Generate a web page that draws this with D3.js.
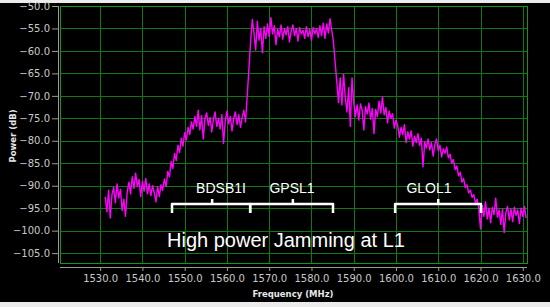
<!DOCTYPE html>
<html>
<head>
<meta charset="utf-8">
<script src="https://cdn.jsdelivr.net/npm/d3@7"></script>
<style>
  body { margin: 0; background: #ececec; }
</style>
</head>
<body>
<div id="chart"></div>
<script>
// spectrum sweep, one reading every 0.4 MHz from 1531.2 MHz
const freqStart = 1531.2, freqStep = 0.4;

const floorLow = [-92.5, -95.8, -91.0, -97.2, -92.0, -90.4, -93.8, -89.6, -92.7, -90.8,
  -95.5, -93.0, -96.8, -91.5, -89.2, -91.8, -88.0, -90.6, -87.2, -90.2,
  -88.6, -92.4, -89.0, -91.2, -88.4, -91.8, -89.6, -92.2, -90.0, -91.5,
  -93.6, -90.2, -92.4, -89.8, -91.0];
const bdsRise = [-88.5, -90.2, -86.8, -88.0, -84.6, -86.2, -82.8, -84.4, -81.0, -82.6,
  -79.4, -81.2, -78.2, -79.8, -77.0, -78.6, -75.8, -77.4];
const bdsBand = [-74.6, -76.8, -73.2, -77.6, -74.4, -79.6, -75.0, -73.8, -76.6, -74.8,
  -78.0, -75.2, -73.6, -76.8, -75.0, -77.4, -74.2, -80.6, -75.6, -73.4,
  -76.2, -74.6, -77.8, -75.0, -73.6, -76.4, -74.2, -77.0, -74.8, -73.2, -75.8];
const gpsRise = [-70.0, -64.0, -58.0, -53.0, -56.0];
const gpsBand = [-59.8, -53.4, -57.6, -55.0, -60.4, -54.6, -57.2, -54.0, -56.8, -52.6,
  -56.2, -54.4, -58.6, -55.2, -56.8, -54.2, -57.4, -55.0, -56.4, -54.6,
  -58.0, -55.6, -54.2, -56.6, -55.0, -57.8, -54.8, -56.2, -55.4, -57.2,
  -54.6, -56.8, -55.2, -57.6, -54.8, -56.2, -55.0, -57.0, -54.4, -56.6,
  -53.8, -57.2, -54.0, -56.0, -52.8, -55.4];
const gpsFall = [-58.0, -62.5, -67.0, -71.5, -66.0, -72.0];
const midBand = [-65.2, -70.4, -73.6, -68.2, -76.8, -66.0, -71.4, -74.6, -72.0, -75.4,
  -71.8, -73.2, -77.6, -72.4, -74.0, -71.6, -75.2, -72.8, -78.4, -73.0,
  -74.6, -71.2, -73.8, -70.2, -74.2, -72.6, -76.0, -73.4, -75.0, -74.0,
  -77.2, -75.4];
const gloBand = [-76.6, -79.2, -77.0, -78.6, -76.4, -80.4, -78.0, -79.6, -77.8, -81.2,
  -79.0, -80.4, -78.4, -81.0, -79.4, -85.8, -80.2, -81.6, -79.6, -82.0,
  -80.4, -83.4, -80.8, -79.6, -82.2, -81.0, -83.6, -81.8, -82.8, -81.4, -83.8];
const gloFall = [-83.0, -85.0, -84.2, -86.4, -85.6, -87.8, -87.0, -89.2, -88.4, -90.4,
  -89.8, -91.6, -91.0, -92.6, -92.0, -93.8, -93.0];
const floorHigh = [-95.2, -99.6, -94.4, -96.8, -93.6, -97.4, -95.0, -98.2, -94.8, -96.4,
  -92.8, -97.0, -95.4, -98.6, -95.2, -100.4, -96.0, -94.6, -97.6, -95.2,
  -98.0, -94.8, -96.6, -95.4, -98.4, -95.0, -96.8, -94.6, -97.2];

const power = [].concat(floorLow, bdsRise, bdsBand, gpsRise, gpsBand, gpsFall,
  midBand, gloBand, gloFall, floorHigh);

const xTicks = [1530, 1540, 1550, 1560, 1570, 1580, 1590, 1600, 1610, 1620, 1630];
const yTicks = [-50, -55, -60, -65, -70, -75, -80, -85, -90, -95, -100, -105];

// bracket annotations
const bandNames = ["BDSB1I", "GPSL1", "GLOL1"];
const bandStart = [1547.0, 1565.5, 1599.8];
const bandEnd = [1565.5, 1585.1, 1620.1];
const bandMid = [1556.5, 1575.6, 1610.0];
const bandLabelAt = [1558.6, 1575.4, 1607.8];
const caption = "High power Jamming at L1";

const width = 550, height = 307;
const plot = { left: 60, right: 527, top: 6, bottom: 263 };

const svg = d3.select("#chart").append("svg")
  .attr("width", width).attr("height", height);

svg.append("rect")
  .attr("x", 0).attr("y", 3).attr("width", width).attr("height", 299)
  .attr("fill", "#000");

const x = d3.scaleLinear().domain([1520.5, 1631.0]).range([plot.left, plot.right]);
const y = d3.scaleLinear().domain([-107.2, -50]).range([plot.bottom, plot.top]);

// grid
const grid = svg.append("g").attr("stroke", "#107a10").attr("stroke-width", 1);
grid.selectAll(".hg").data(yTicks).join("line")
  .attr("x1", plot.left).attr("x2", plot.right)
  .attr("y1", d => Math.round(y(d)) + 0.5).attr("y2", d => Math.round(y(d)) + 0.5);
grid.selectAll(".vg").data(xTicks).join("line")
  .attr("y1", plot.top).attr("y2", plot.bottom)
  .attr("x1", d => Math.round(x(d)) + 0.5).attr("x2", d => Math.round(x(d)) + 0.5);

svg.append("rect")
  .attr("x", plot.left + 0.5).attr("y", plot.top + 0.5)
  .attr("width", plot.right - plot.left).attr("height", plot.bottom - plot.top)
  .attr("fill", "none").attr("stroke", "#169616").attr("stroke-width", 1);

// axes
const fmt = d3.format(".1f");
const yAxis = svg.append("g")
  .attr("transform", `translate(${plot.left - 2},0)`)
  .call(d3.axisLeft(y).tickValues(yTicks).tickSize(6).tickPadding(2)
    .tickFormat(d => fmt(d)));
const xAxis = svg.append("g")
  .attr("transform", `translate(0,${plot.bottom + 4})`)
  .call(d3.axisBottom(x).tickValues(xTicks).tickSize(4).tickPadding(4)
    .tickFormat(d => fmt(d)));

[yAxis, xAxis].forEach(a => {
  a.select(".domain").attr("stroke", "#9a9a9a");
  a.selectAll(".tick line").attr("stroke", "#9a9a9a");
  a.selectAll(".tick text")
    .attr("fill", "#c8c8c8")
    .style("font-family", "DejaVu Sans")
    .style("font-size", "10px");
});
xAxis.select(".domain").attr("d", `M${plot.left},0.5H${plot.right}`);
yAxis.select(".domain").attr("d", `M0.5,${plot.top}V${plot.bottom}`);

svg.append("text")
  .attr("transform", "rotate(-90)")
  .attr("x", -136).attr("y", 16)
  .attr("text-anchor", "middle")
  .attr("fill", "#e8e8e8")
  .style("font-family", "DejaVu Sans").style("font-weight", "bold").style("font-size", "8.5px")
  .text("Power (dB)");

svg.append("text")
  .attr("x", 293).attr("y", 297)
  .attr("text-anchor", "middle")
  .attr("fill", "#e8e8e8")
  .style("font-family", "DejaVu Sans").style("font-weight", "bold").style("font-size", "8.5px")
  .text("Frequency (MHz)");

// signal trace
const trace = power.map((p, i) => ({ f: freqStart + i * freqStep, p }));
const line = d3.line().x(d => x(d.f)).y(d => y(d.p));

svg.append("defs").append("clipPath").attr("id", "clip")
  .append("rect")
  .attr("x", plot.left).attr("y", plot.top)
  .attr("width", plot.right - plot.left).attr("height", plot.bottom - plot.top);

svg.append("path")
  .datum(trace)
  .attr("clip-path", "url(#clip)")
  .attr("fill", "none")
  .attr("stroke", "#ff00ff")
  .attr("stroke-width", 1.4)
  .attr("stroke-linejoin", "round")
  .attr("d", line);

// brackets
const bracketY = 204;
const ann = svg.append("g");
bandNames.forEach((name, i) => {
  const x0 = x(bandStart[i]), x1 = x(bandEnd[i]), xm = x(bandMid[i]);
  ann.append("path")
    .attr("d", `M${x0},${bracketY + 9}V${bracketY}H${x1}V${bracketY + 9}M${xm},${bracketY}V${bracketY - 5}`)
    .attr("fill", "none").attr("stroke", "#fff").attr("stroke-width", 2.5)
    .attr("stroke-linejoin", "round");
  ann.append("text")
    .attr("x", x(bandLabelAt[i])).attr("y", 193)
    .attr("text-anchor", "middle")
    .attr("fill", "#fff")
    .style("font-family", "Liberation Sans").style("font-size", "14px")
    .text(name);
});

svg.append("text")
  .attr("x", 167).attr("y", 247)
  .attr("fill", "#fff")
  .style("font-family", "Liberation Sans").style("font-size", "20px")
  .text(caption);
</script>
</body>
</html>
